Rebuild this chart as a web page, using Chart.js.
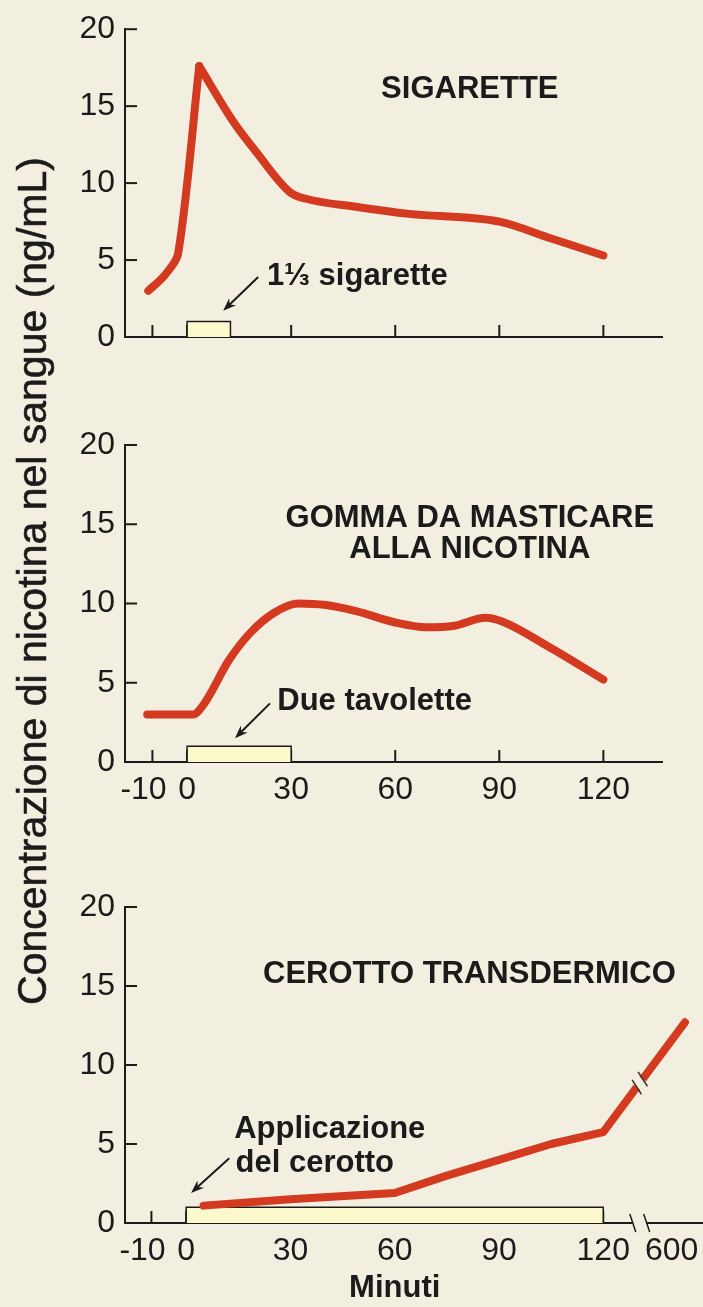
<!DOCTYPE html>
<html>
<head>
<meta charset="utf-8">
<script src="https://cdn.jsdelivr.net/npm/chart.js@4.4.0/dist/chart.umd.min.js"></script>
<style>
  body { margin: 0; background: #f3efe0; }
  #pagina { position: relative; width: 703px; height: 1307px; overflow: hidden; background: #f3efe0; }
  canvas { position: absolute; left: 0; }
  #ytitolo {
    position: absolute; left: -468px; top: 558px; width: 1000px; height: 46px;
    line-height: 46px; text-align: center; white-space: nowrap;
    transform: rotate(-90deg);
    font: 41px 'Liberation Sans', Arial, sans-serif; color: #1b1b1b;
    -webkit-text-stroke: 0.6px #1b1b1b;
  }
</style>
</head>
<body>
<div id="pagina">
  <canvas id="sigarette" width="703" height="377" style="top:0"></canvas>
  <canvas id="gomma" width="703" height="412" style="top:400px"></canvas>
  <canvas id="cerotto" width="703" height="447" style="top:860px"></canvas>
  <div id="ytitolo">Concentrazione di nicotina nel sangue (ng/mL)</div>
</div>
<script>
// tick values and labels
const yTicks = [0, 5, 10, 15, 20];
const minutiTicks = [-10, 0, 30, 60, 90, 120];
const minutiLabels = ['-10', '0', '30', '60', '90', '120'];
const cerottoTicks = [-10, 0, 30, 60, 90, 120, 600];
const cerottoLabels = ['-10', '0', '30', '60', '90', '120', '600'];

// sigarette
const sigaretteMin = [-11.2, -6.5, -2.6, 3.5, 13.3, 20, 29.7, 34, 49, 64, 90, 105, 120];
const sigaretteConc = [3.0, 4.0, 5.4, 17.6, 14.0, 12.0, 9.4, 9.0, 8.45, 8.0, 7.5, 6.4, 5.3];
const sigaretteDurata = [0, 12.5];

// gomma da masticare
const gommaMin = [-11.5, 1.7, 5, 12, 18, 25, 32, 40, 49, 60, 69, 77, 86, 91, 104, 120];
const gommaConc = [3.0, 3.0, 3.7, 6.4, 8.1, 9.4, 10.0, 9.9, 9.5, 8.8, 8.5, 8.6, 9.1, 8.85, 7.3, 5.2];
const gommaDurata = [0, 30];

// cerotto transdermico
const cerottoMin = [5, 30, 60, 75, 90, 105, 120, 600];
const cerottoConc = [1.1, 1.5, 1.9, 3.0, 4.0, 5.0, 5.75, 12.7];
const cerottoDurata = [0, 120];

const BG = '#f3efe0';
const RED = '#d33a20';
const INK = '#1b1b1b';
const FONT = "'Liberation Sans', Arial, sans-serif";

// broken axis: 120 -> 600 squeezed into a short stretch
const posCerotto = m => m <= 120 ? m : 120 + 23.5 * (m - 120) / 480;
const BREAK_POS = 130.5;

// nudge crowded labels sideways (trailing blanks shift a centred label left)
const sposta = (lab) => lab === '-10' ? lab + '\u00a0\u00a0' : lab === '600' ? lab + '\u00a0\u00a0\u00a0' : lab;

function punti(xs, ys, pos) {
    return xs.map((x, i) => ({ x: pos ? pos(x) : x, y: ys[i] }));
}
function scatola(durata) {
    return [
        { x: durata[0], y: 0 }, { x: durata[0], y: 1 },
        { x: durata[1], y: 1 }, { x: durata[1], y: 0 }
    ];
}
function linea(data, extra) {
    return Object.assign({
        data: data, borderColor: RED, borderWidth: 8, pointRadius: 0,
        cubicInterpolationMode: 'monotone', borderCapStyle: 'round',
        borderJoinStyle: 'round', fill: false
    }, extra || {});
}
function box(durata) {
    return {
        data: scatola(durata), borderColor: INK, borderWidth: 1.5,
        backgroundColor: '#fcf9cd', fill: 'origin', tension: 0, pointRadius: 0
    };
}

const note = {
    id: 'note',
    beforeDatasetsDraw(chart, args, opts) {
        const { ctx, scales: { x, y } } = chart;
        const L = 12;
        ctx.save();
        ctx.strokeStyle = INK;
        ctx.lineWidth = 2;
        yTicks.filter(v => v > 0).forEach(v => {
            const py = y.getPixelForValue(v);
            ctx.beginPath(); ctx.moveTo(x.left, py); ctx.lineTo(x.left + L, py); ctx.stroke();
        });
        minutiTicks.forEach(v => {
            const px = x.getPixelForValue(v);
            ctx.beginPath(); ctx.moveTo(px, y.bottom); ctx.lineTo(px, y.bottom - L); ctx.stroke();
        });
        ctx.restore();
    },
    afterDatasetsDraw(chart, args, opts) {
        const { ctx, scales: { x, y } } = chart;
        ctx.save();
        ctx.fillStyle = INK;
        ctx.textBaseline = 'alphabetic';
        (opts.testi || []).forEach(t => {
            ctx.font = t.font;
            ctx.textAlign = t.align || 'left';
            ctx.fillText(t.text, x.getPixelForValue(t.x), y.getPixelForValue(t.y));
        });
        if (opts.freccia) {
            const [a, b] = opts.freccia;
            const x1 = x.getPixelForValue(a[0]), y1 = y.getPixelForValue(a[1]);
            const x2 = x.getPixelForValue(b[0]), y2 = y.getPixelForValue(b[1]);
            const ang = Math.atan2(y2 - y1, x2 - x1);
            ctx.strokeStyle = INK;
            ctx.lineWidth = 2;
            ctx.beginPath(); ctx.moveTo(x1, y1);
            ctx.lineTo(x2 - 8 * Math.cos(ang), y2 - 8 * Math.sin(ang)); ctx.stroke();
            ctx.beginPath();
            ctx.moveTo(x2, y2);
            ctx.lineTo(x2 - 14 * Math.cos(ang - 0.36), y2 - 14 * Math.sin(ang - 0.36));
            ctx.lineTo(x2 - 9 * Math.cos(ang), y2 - 9 * Math.sin(ang));
            ctx.lineTo(x2 - 14 * Math.cos(ang + 0.36), y2 - 14 * Math.sin(ang + 0.36));
            ctx.closePath(); ctx.fill();
        }
        if (opts.interruzione) {
            const bx = x.getPixelForValue(BREAK_POS);
            // gap in the red line
            const pts = chart.getDatasetMeta(0).data;
            for (let i = 1; i < pts.length; i++) {
                const p = pts[i - 1], q = pts[i];
                if (p.x <= bx && q.x >= bx) {
                    const t = (bx - p.x) / (q.x - p.x);
                    const by = p.y + t * (q.y - p.y);
                    const ang = Math.atan2(q.y - p.y, q.x - p.x);
                    ctx.translate(bx, by);
                    ctx.rotate(ang);
                    ctx.fillStyle = BG;
                    ctx.fillRect(-5, -9, 10, 18);
                    ctx.strokeStyle = '#3a3226';
                    ctx.lineWidth = 1.5;
                    [-5, 5].forEach(d => {
                        ctx.beginPath(); ctx.moveTo(d + 3, -8); ctx.lineTo(d - 3, 8); ctx.stroke();
                    });
                    ctx.setTransform(1, 0, 0, 1, 0, 0);
                    break;
                }
            }
            // gap in the x axis
            const l = x.getPixelForValue(BREAK_POS - 2), r = x.getPixelForValue(BREAK_POS + 2);
            const yb = y.bottom;
            ctx.fillStyle = BG;
            ctx.fillRect(l, yb - 3, r - l, 6);
            ctx.strokeStyle = INK;
            ctx.lineWidth = 1.5;
            [l, r].forEach(px => {
                ctx.beginPath(); ctx.moveTo(px - 3, yb - 9); ctx.lineTo(px + 3, yb + 9); ctx.stroke();
            });
        }
        ctx.restore();
    }
};

const tickFont = { family: FONT, size: 32, weight: 'normal' };

function grafico(id, cfg) {
    const ctx = document.getElementById(id).getContext('2d');
    return new Chart(ctx, {
        type: 'line',
        data: { datasets: cfg.datasets },
        plugins: [note],
        options: {
            responsive: false,
            animation: false,
            devicePixelRatio: 1,
            layout: { padding: cfg.padding },
            plugins: {
                legend: { display: false },
                tooltip: { enabled: false },
                note: cfg.note
            },
            scales: {
                x: {
                    type: 'linear',
                    min: cfg.xMin, max: cfg.xMax,
                    afterBuildTicks: s => { s.ticks = cfg.xTicks.map(v => ({ value: v })); },
                    afterFit: s => {
                        s.height = cfg.xHeight;
                        s.paddingLeft = 0;
                        s.paddingRight = 0;
                    },
                    grid: { display: false, drawTicks: false },
                    border: { display: true, color: INK, width: 2 },
                    ticks: {
                        display: cfg.xLabels,
                        padding: 9,
                        maxRotation: 0,
                        autoSkip: false,
                        color: INK,
                        font: tickFont,
                        callback: (v, i) => sposta(cfg.xLabelText[i])
                    }
                },
                y: {
                    min: 0, max: 20,
                    afterBuildTicks: s => { s.ticks = yTicks.map(v => ({ value: v })); },
                    afterFit: s => { s.width = 125; },
                    grid: { display: false, drawTicks: false },
                    border: { display: true, color: INK, width: 2 },
                    ticks: {
                        padding: 10,
                        color: INK,
                        font: tickFont
                    }
                }
            }
        }
    });
}

const titoloFont = 'bold 31px ' + FONT;

grafico('sigarette', {
    datasets: [
        linea(punti(sigaretteMin.slice(0, 4), sigaretteConc.slice(0, 4)), { cubicInterpolationMode: 'default', tension: 0.3 }),
        linea(punti(sigaretteMin.slice(3), sigaretteConc.slice(3))),
        box(sigaretteDurata)
    ],
    padding: { top: 20, right: 41, left: 0, bottom: 0 },
    xMin: -17.9, xMax: 136.9,
    xTicks: minutiTicks,
    xLabelText: minutiLabels,
    xLabels: false,
    xHeight: 40,
    note: {
        testi: [
            { text: 'SIGARETTE', x: 81.5, y: 15.5, align: 'center', font: titoloFont },
            { text: '1⅓ sigarette', x: 23, y: 3.4, font: titoloFont }
        ],
        freccia: [[20.5, 3.9], [10.4, 1.7]]
    }
});

grafico('gomma', {
    datasets: [
        linea(punti(gommaMin, gommaConc)),
        box(gommaDurata)
    ],
    padding: { top: 45, right: 41, left: 0, bottom: 0 },
    xMin: -17.9, xMax: 136.9,
    xTicks: minutiTicks,
    xLabelText: minutiLabels,
    xLabels: true,
    xHeight: 50,
    note: {
        testi: [
            { text: 'GOMMA DA MASTICARE', x: 81.5, y: 14.8, align: 'center', font: titoloFont },
            { text: 'ALLA NICOTINA', x: 81.5, y: 12.9, align: 'center', font: titoloFont },
            { text: 'Due tavolette', x: 26, y: 3.3, font: titoloFont }
        ],
        freccia: [[23.9, 3.7], [13.8, 1.5]]
    }
});

grafico('cerotto', {
    datasets: [
        linea(punti(cerottoMin, cerottoConc, posCerotto), { cubicInterpolationMode: 'default', tension: 0 }),
        box(cerottoDurata)
    ],
    padding: { top: 47, right: 0, left: 0, bottom: 0 },
    xMin: -17.6, xMax: 148.7,
    xTicks: cerottoTicks.map(posCerotto),
    xLabelText: cerottoLabels,
    xLabels: true,
    xHeight: 84,
    note: {
        testi: [
            { text: 'CEROTTO TRANSDERMICO', x: 81.5, y: 15.2, align: 'center', font: titoloFont },
            { text: 'Applicazione', x: 13.8, y: 5.4, font: titoloFont },
            { text: 'del cerotto', x: 14.2, y: 3.2, font: titoloFont },
            { text: 'Minuti', x: 60, y: -4.7, align: 'center', font: titoloFont }
        ],
        freccia: [[12.4, 4.1], [1.4, 1.9]],
        interruzione: true
    }
});
</script>
</body>
</html>
